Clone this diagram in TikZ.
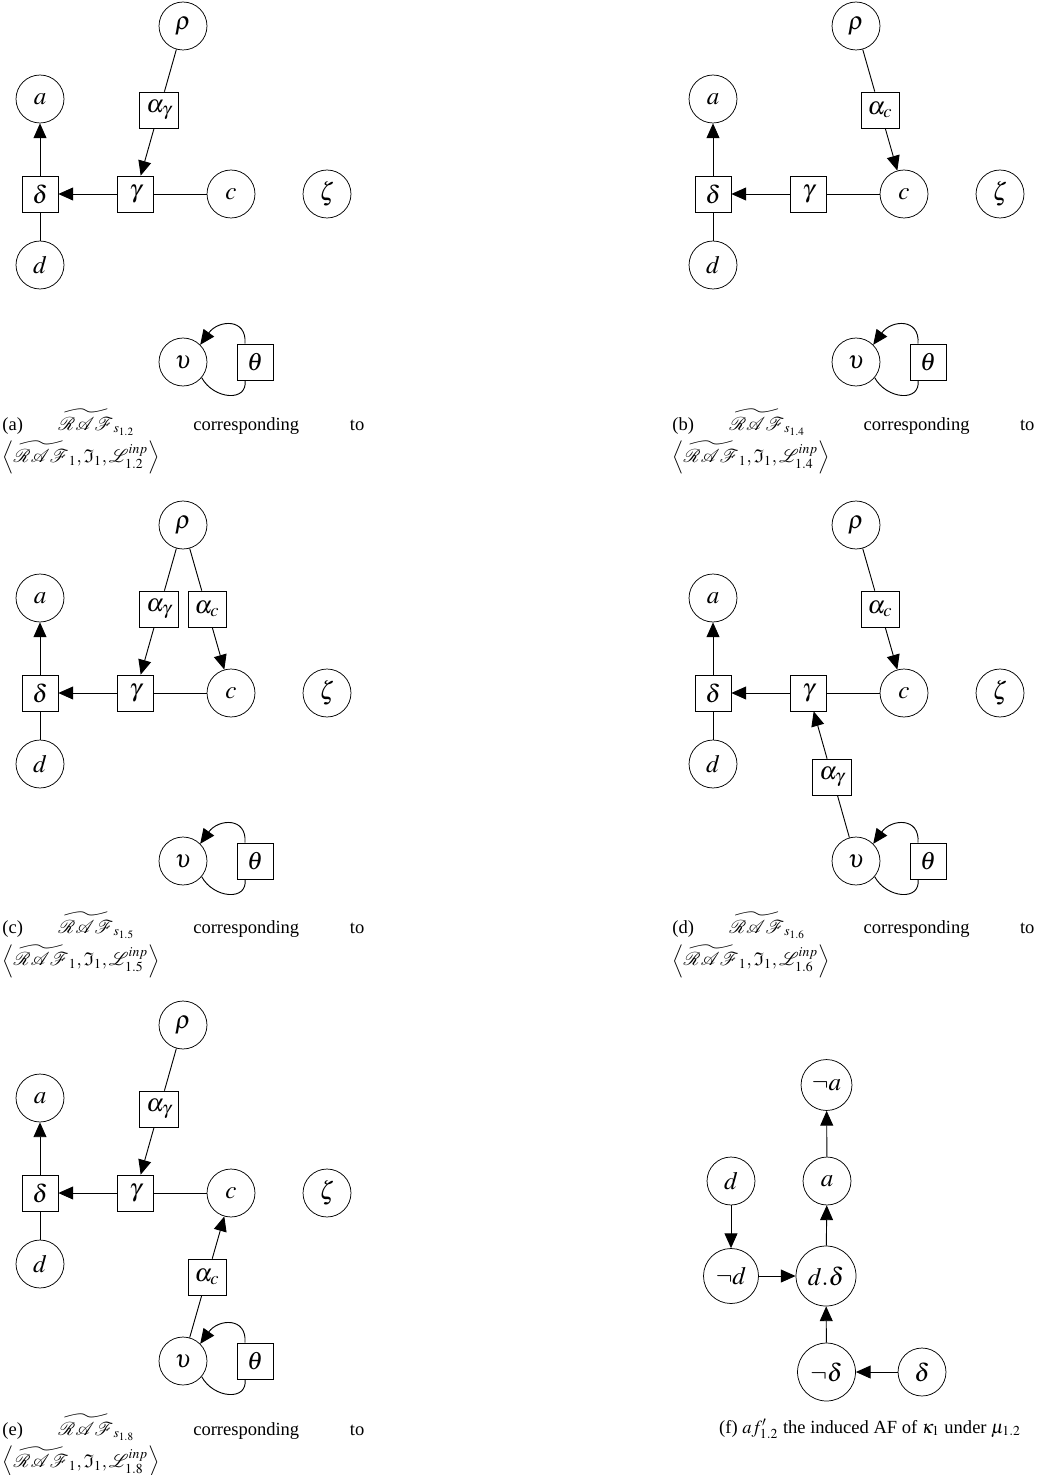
\documentclass[tikz,border=0pt]{standalone}
\usepackage{amssymb}
\usepackage{mathptmx}
\usepackage{mathrsfs}
\usepackage[no-math]{fontspec}
\setmainfont{Liberation Serif}
\usetikzlibrary{arrows.meta, calc}

\begin{document}
\begin{tikzpicture}[x=0.54pt, y=-0.54pt,
  arg/.style={draw, circle, minimum size=25.9pt, inner sep=1pt, font=\fontsize{13.5}{15}\selectfont},
  supp/.style={draw, minimum width=19.4pt, minimum height=19.4pt, inner xsep=3.5pt, inner ysep=2pt, font=\fontsize{13.5}{15}\selectfont},
  arr/.style={-{Triangle[length=8pt, width=7pt]}, line width=0.5pt},
  lnk/.style={line width=0.5pt},
  subcap/.style={text width=195.5pt, align=left, anchor=base west, inner sep=0pt},
]
\useasboundingbox (0,0) rectangle (1044,1475);

% --- nodes shared by panels (a)-(e) ---
\foreach \i/\dx/\dy in {1/0/0, 2/673/0, 3/0/499, 4/673/499, 5/0/999} {
  \begin{scope}[shift={(\dx,\dy)}]
    \node[arg] (rho\i) at (183,26) {$\rho$};
    \node[arg] (a\i) at (40,99) {$a$};
    \node[supp] (dl\i) at (40,194) {$\delta$};
    \node[supp] (gm\i) at (135.5,194) {$\gamma$};
    \node[arg] (c\i) at (231,194) {$c$};
    \node[arg] (zt\i) at (327,194) {$\zeta$};
    \node[arg] (d\i) at (40,265) {$d$};
    \node[arg] (up\i) at (183,362) {$\upsilon$};
    \node[supp] (th\i) at (255,362) {$\theta$};
  \end{scope}
  \draw[arr] (dl\i) -- (a\i);
  \draw[lnk] (d\i) -- (dl\i);
  \draw[arr] (gm\i) -- (dl\i);
  \draw[lnk] (c\i) -- (gm\i);
  \draw[arr] ([xshift=-5.4pt]th\i.north) .. controls +(2,-26) and +(18,-25) .. (up\i.45);
  \draw[lnk] (up\i.-40) .. controls +(12,22) and +(3,22) .. ([xshift=-5.4pt]th\i.south);
}

% --- (a) ---
\node[supp] (ag1) at ($(rho1)!0.5!(gm1)$) {$\alpha_\gamma$};
\draw[lnk] (rho1) -- (ag1);
\draw[arr] (ag1) -- (gm1);

% --- (b) ---
\node[supp] (ac2) at ($(rho2)!0.5!(c2)$) {$\alpha_c$};
\draw[lnk] (rho2) -- (ac2);
\draw[arr] (ac2) -- (c2);

% --- (c) ---
\node[supp] (ag3) at ($(rho3)!0.5!(gm3)$) {$\alpha_\gamma$};
\node[supp] (ac3) at ($(rho3)!0.5!(c3)$) {$\alpha_c$};
\draw[lnk] (rho3) -- (ag3);
\draw[arr] (ag3) -- (gm3);
\draw[lnk] (rho3) -- (ac3);
\draw[arr] (ac3) -- (c3);

% --- (d) ---
\node[supp] (ac4) at ($(rho4)!0.5!(c4)$) {$\alpha_c$};
\node[supp] (ag4) at ($(up4)!0.5!(gm4)$) {$\alpha_\gamma$};
\draw[lnk] (rho4) -- (ac4);
\draw[arr] (ac4) -- (c4);
\draw[lnk] (up4) -- (ag4);
\draw[arr] (ag4) -- (gm4);

% --- (e) ---
\node[supp] (ag5) at ($(rho5)!0.5!(gm5)$) {$\alpha_\gamma$};
\node[supp] (ac5) at ($(up5)!0.5!(c5)$) {$\alpha_c$};
\draw[lnk] (rho5) -- (ag5);
\draw[arr] (ag5) -- (gm5);
\draw[lnk] (up5) -- (ac5);
\draw[arr] (ac5) -- (c5);

% --- (f) induced AF ---
\node[arg, minimum size=27.5pt] (na) at (826.5,1085) {$\neg a$};
\node[arg] (af) at (827,1181) {$a$};
\node[arg] (df) at (731,1181) {$d$};
\node[arg, minimum size=29.7pt] (ndf) at (731,1276) {$\neg d$};
\node[arg, minimum size=32.4pt] (ddf) at (826,1276) {$d.\delta$};
\node[arg, minimum size=31.3pt] (ndlf) at (826.5,1372) {$\neg\delta$};
\node[arg] (dlf) at (922,1372) {$\delta$};
\draw[arr] (df) -- (ndf);
\draw[arr] (ndf) -- (ddf);
\draw[arr] (ddf) -- (af);
\draw[arr] (af) -- (na);
\draw[arr] (dlf) -- (ndlf);
\draw[arr] (ndlf) -- (ddf);

% --- captions ---
\node[subcap] (capa) at (2,430) {(a)\hspace{\stretch{0.7}}$\widetilde{\mathscr{RAF}}_{s_{1.2}}$\hspace{\stretch{1.15}}corresponding\hspace{\stretch{1}}to\\[2pt] $\left\langle\widetilde{\mathscr{RAF}}_1,\mathfrak{I}_1,\mathscr{L}^{inp}_{1.2}\right\rangle$};
\node[subcap] (capb) at (672,430) {(b)\hspace{\stretch{0.7}}$\widetilde{\mathscr{RAF}}_{s_{1.4}}$\hspace{\stretch{1.15}}corresponding\hspace{\stretch{1}}to\\[2pt] $\left\langle\widetilde{\mathscr{RAF}}_1,\mathfrak{I}_1,\mathscr{L}^{inp}_{1.4}\right\rangle$};
\node[subcap] (capc) at (2,933) {(c)\hspace{\stretch{0.7}}$\widetilde{\mathscr{RAF}}_{s_{1.5}}$\hspace{\stretch{1.15}}corresponding\hspace{\stretch{1}}to\\[2pt] $\left\langle\widetilde{\mathscr{RAF}}_1,\mathfrak{I}_1,\mathscr{L}^{inp}_{1.5}\right\rangle$};
\node[subcap] (capd) at (672,933) {(d)\hspace{\stretch{0.7}}$\widetilde{\mathscr{RAF}}_{s_{1.6}}$\hspace{\stretch{1.15}}corresponding\hspace{\stretch{1}}to\\[2pt] $\left\langle\widetilde{\mathscr{RAF}}_1,\mathfrak{I}_1,\mathscr{L}^{inp}_{1.6}\right\rangle$};
\node[subcap] (cape) at (2,1435) {(e)\hspace{\stretch{0.7}}$\widetilde{\mathscr{RAF}}_{s_{1.8}}$\hspace{\stretch{1.15}}corresponding\hspace{\stretch{1}}to\\[2pt] $\left\langle\widetilde{\mathscr{RAF}}_1,\mathfrak{I}_1,\mathscr{L}^{inp}_{1.8}\right\rangle$};
\node[anchor=base, inner sep=0pt] (capf) at (870,1433) {(f) $af'_{1.2}$ the induced AF of $\kappa_1$ under $\mu_{1.2}$};

\end{tikzpicture}
\end{document}
